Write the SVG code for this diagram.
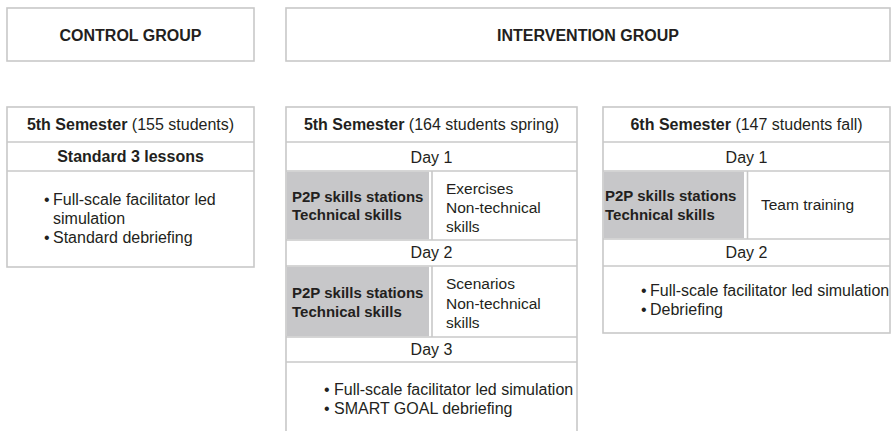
<svg xmlns="http://www.w3.org/2000/svg" width="891" height="431" viewBox="0 0 891 431">
  <style>
    .box { fill: #ffffff; stroke: #c8c8c8; stroke-width: 1.6; }
    .rule { stroke: #c8c8c8; stroke-width: 1.6; fill: none; }
    .shade { fill: #c7c7c9; }
    text { font-family: "Liberation Sans", Arial, Helvetica, sans-serif; fill: #231f20; font-size: 16px; }
    .hd { font-weight: bold; text-anchor: middle; }
    .mid { text-anchor: middle; }
    .b { font-weight: bold; }
    .cell { font-size: 15px; font-weight: bold; }
    .side { font-size: 15.5px; }
  </style>

  <!-- Group headers -->
  <g id="control-header">
    <rect class="box" x="7" y="8" width="247" height="53"/>
    <text class="hd" x="130.5" y="40.5">CONTROL GROUP</text>
  </g>
  <g id="intervention-header">
    <rect class="box" x="286" y="8" width="604" height="53"/>
    <text class="hd" x="588" y="40.5">INTERVENTION GROUP</text>
  </g>

  <!-- Control group: 5th semester -->
  <g id="control-semester5">
    <rect class="box" x="7" y="107" width="247" height="160"/>
    <line class="rule" x1="7" y1="142" x2="254" y2="142"/>
    <line class="rule" x1="7" y1="171" x2="254" y2="171"/>
    <text class="mid" x="130.5" y="130"><tspan class="b">5th Semester</tspan> (155 students)</text>
    <text class="hd" x="130.5" y="162">Standard 3 lessons</text>
    <text x="44" y="205">•</text>
    <text x="53" y="205">Full-scale facilitator led</text>
    <text x="53" y="224">simulation</text>
    <text x="44" y="243">•</text>
    <text x="53" y="243">Standard debriefing</text>
  </g>

  <!-- Intervention group: 5th semester -->
  <g id="intervention-semester5">
    <rect class="box" x="286" y="107" width="291" height="340"/>
    <rect class="shade" x="286.8" y="171.8" width="142.2" height="67.4"/>
    <rect class="shade" x="286.8" y="266.8" width="142.2" height="69.4"/>
    <line class="rule" x1="286" y1="142" x2="577" y2="142"/>
    <line class="rule" x1="286" y1="171" x2="577" y2="171"/>
    <line class="rule" x1="286" y1="240" x2="577" y2="240"/>
    <line class="rule" x1="286" y1="266" x2="577" y2="266"/>
    <line class="rule" x1="286" y1="337" x2="577" y2="337"/>
    <line class="rule" x1="286" y1="362" x2="577" y2="362"/>
    <line class="rule" x1="432" y1="171" x2="432" y2="240"/>
    <line class="rule" x1="432" y1="266" x2="432" y2="337"/>
    <text class="mid" x="431.5" y="130"><tspan class="b">5th Semester</tspan> (164 students spring)</text>
    <text class="mid" x="431.5" y="163">Day 1</text>
    <text class="cell" x="292" y="202">P2P skills stations</text>
    <text class="cell" x="292" y="220">Technical skills</text>
    <text class="side" x="446" y="194">Exercises</text>
    <text class="side" x="446" y="213">Non-technical</text>
    <text class="side" x="446" y="232">skills</text>
    <text class="mid" x="431.5" y="258">Day 2</text>
    <text class="cell" x="292" y="298">P2P skills stations</text>
    <text class="cell" x="292" y="317">Technical skills</text>
    <text class="side" x="446" y="289">Scenarios</text>
    <text class="side" x="446" y="309">Non-technical</text>
    <text class="side" x="446" y="328">skills</text>
    <text class="mid" x="431.5" y="355">Day 3</text>
    <text x="324" y="395">•</text>
    <text x="334" y="395">Full-scale facilitator led simulation</text>
    <text x="324" y="414">•</text>
    <text x="334" y="414">SMART GOAL debriefing</text>
  </g>

  <!-- Intervention group: 6th semester -->
  <g id="intervention-semester6">
    <rect class="box" x="603" y="107" width="287" height="226"/>
    <rect class="shade" x="603.8" y="171.8" width="140.2" height="66.4"/>
    <line class="rule" x1="603" y1="142" x2="890" y2="142"/>
    <line class="rule" x1="603" y1="171" x2="890" y2="171"/>
    <line class="rule" x1="603" y1="239" x2="890" y2="239"/>
    <line class="rule" x1="603" y1="266" x2="890" y2="266"/>
    <line class="rule" x1="747.5" y1="171" x2="747.5" y2="239"/>
    <text class="mid" x="746.5" y="130"><tspan class="b">6th Semester</tspan> (147 students fall)</text>
    <text class="mid" x="746.5" y="163">Day 1</text>
    <text class="cell" x="605" y="201">P2P skills stations</text>
    <text class="cell" x="605" y="220">Technical skills</text>
    <text class="side" x="761" y="210">Team training</text>
    <text class="mid" x="746.5" y="258">Day 2</text>
    <text x="641" y="296">•</text>
    <text x="650" y="296">Full-scale facilitator led simulation</text>
    <text x="641" y="315">•</text>
    <text x="650" y="315">Debriefing</text>
  </g>
</svg>
